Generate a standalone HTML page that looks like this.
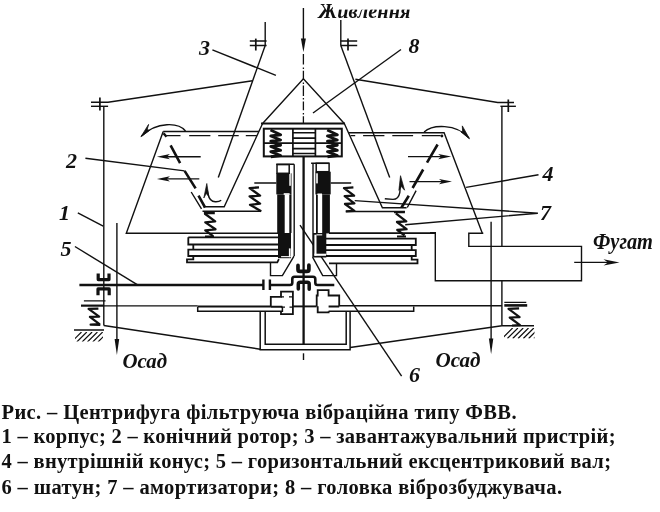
<!DOCTYPE html>
<html><head><meta charset="utf-8">
<style>
html,body{margin:0;padding:0;background:#fff;}
svg{display:block;will-change:transform;}
.t{font-family:"Liberation Serif",serif;font-weight:bold;font-size:20.5px;fill:#111;}
.it{font-family:"Liberation Serif",serif;font-weight:bold;font-style:italic;fill:#111;}
</style></head><body>
<svg width="660" height="512" viewBox="0 0 660 512">
<g fill="none" stroke="#111" stroke-width="1.4">
<path d="M303.4 8 V40"/>
<path d="M300.9 38.5 L303.4 52.3 L305.9 38.5 Z" fill="#111" stroke="none"/>
<path d="M303.4 54 V64.6 M303.4 67.5 V69 M303.4 70.7 V79.5 M303.4 82.5 V84 M303.4 85.6 V96 M303.4 98 V99.5 M303.4 101.4 V110.2 M303.4 113 V114.5 M303.4 116.3 V123" stroke-width="1.3"/>
<path d="M303.5 353.3 V360" stroke-width="1.4"/>
<path d="M265.2 22 V45.5"/>
<path d="M249.8 41 H266.6 M249.8 45.5 H266.6"/>
<path d="M255.8 38.6 V50.5" stroke-width="1.7"/>
<path d="M265.2 45.5 L218.3 177.4"/>
<path d="M340.8 20 V45.5"/>
<path d="M340.5 41 H357.2 M340.5 45.5 H357.2"/>
<path d="M348 38.6 V50.5" stroke-width="1.7"/>
<path d="M340.8 45.5 L389.7 177.5"/>
<path d="M91 102.3 H108 L252.6 80.7"/>
<path d="M91 106.3 H108.1"/>
<path d="M99.9 97.6 V110.5" stroke-width="1.7"/>
<path d="M103.8 106.3 V325.5"/>
<path d="M355.4 79.2 L497.7 102.5 H514"/>
<path d="M500.4 106.3 H515.9"/>
<path d="M508.3 99.5 V112" stroke-width="1.7"/>
<path d="M501.9 106.3 V246.4 M501.9 280.8 V325.7"/>
<path d="M262.6 123.5 L303.4 78.7 L344.3 123.5"/>
<path d="M261 123.5 H345" stroke-width="1.8"/>
<path d="M212.4 49.8 L275.9 75.4"/>
<path d="M401 49.5 L313 113"/>
<path d="M85.4 158.2 L184.6 170.9"/>
<path d="M77.8 212.8 L103.2 226.2"/>
<path d="M74.9 246.5 L137.2 284.7"/>
<path d="M466.1 187.4 L538.5 174.7"/>
<path d="M537.9 213.2 L354.7 200.6 M537.9 213.2 L405.2 224.8"/>
<path d="M300 225.2 L401.6 376.1"/>
<path d="M163.2 131.5 L126.3 233.3 H278"/>
<path d="M163.2 131.5 H258.9 M348.2 132.8 H444.1 L482.4 233.5"/>
<path d="M166.3 135.6 H180.5 M189.2 135.6 H210.4 M218.2 135.6 H238.7 M245.8 135.6 H256.9 M350.5 135.6 H355.2 M363.1 135.6 H384.4 M392.3 135.6 H413.1 M421.8 135.6 H440.7"/>
<path d="M163.5 133.2 L166.5 136.8" stroke-width="2.4"/>
<circle cx="441.9" cy="136" r="1.4" fill="#111" stroke="none"/>
<path d="M185.5 131 C179 122.5 157 121 141.5 136"/>
<path d="M140.9 136.8 L148.6 124.4 L147.2 129.5 L149.5 130.5 Z" fill="#111" stroke="#111" stroke-width="0.8" stroke-linejoin="round"/>
<path d="M424.1 132.1 C432 124.5 456 123 469 138"/>
<path d="M469.5 138.8 L462.3 125.9 L462.6 131.5 L461 132 Z" fill="#111" stroke="#111" stroke-width="0.8" stroke-linejoin="round"/>
<path d="M166.9 156.7 H200.7"/>
<path d="M156.9 156.7 L169.9 154.1 L166.9 156.7 L169.9 159.29999999999998 Z" fill="#111" stroke="none"/>
<path d="M166.9 178.9 H199.3"/>
<path d="M156.9 178.9 L169.9 176.3 L166.9 178.9 L169.9 181.5 Z" fill="#111" stroke="none"/>
<path d="M408 156.6 H441.2"/>
<path d="M451.2 156.6 L438.2 154.0 L441.2 156.6 L438.2 159.2 Z" fill="#111" stroke="none"/>
<path d="M409.5 181.6 H442"/>
<path d="M452 181.6 L439 179.0 L442 181.6 L439 184.2 Z" fill="#111" stroke="none"/>
<path d="M191.2 192 L201.5 208.9 M416.1 190.6 L407.3 207.5"/>
<path d="M207.2 190 L208 194 Q209.5 201.5 215.3 201.8 Q219 202 221.2 200.2"/>
<path d="M206.8 183.5 L203.8 198 L206.3 193.5 L208.8 196.5 Z" fill="#111" stroke="#111" stroke-width="0.7" stroke-linejoin="round"/>
<path d="M400.3 186 L399.8 192.6 Q398.5 199.4 393 199.4 L384.8 198.7"/>
<path d="M400.5 175.7 L404.6 190.2 L401.3 186.5 L398.9 190.3 Z" fill="#111" stroke="#111" stroke-width="0.7" stroke-linejoin="round"/>
<path d="M262.6 123.5 L224.2 206.7 H203.5"/>
<path d="M344.3 123.5 L382.4 207.7 H406.6"/>
<path d="M202.5 211.2 H261.2 M345.8 211.5 H404.9"/>
<rect x="263.8" y="128.7" width="78" height="27.7" stroke-width="2"/>
<path d="M292.9 128.7 V156.4 M315.4 128.7 V156.4 M263.8 143.1 H341.8" stroke-width="1.7"/>
<path d="M292.9 132.8 H315.4 M292.9 138.1 H315.4 M292.9 148.6 H315.4 M292.9 153.5 H315.4" stroke-width="1.6"/>
<path d="M254.3 183 H276.3 M330.7 183 H351.2"/>
<path d="M276.3 164.3 H294.2 M294.2 164.3 V256.1 M311.1 163.3 H329.1 M313 163.3 V233"/>
<path d="M188.3 237.3 H278.3 M188.3 237.3 V244.5 H193.3 V249.7 H188.3 V256 H193.3 V259.3 H187 V262.3 H277.3 L278.9 259.2 M193.3 244.5 H278.3 M188.3 249.7 H278.3 M193.3 256 H278.3" stroke-width="1.8"/>
<path d="M329 233.1 H435.5 M326 238.7 H415.8 V245 H411.7 V250.2 H415.8 V256 H411.7 V259.7 H417.5 V263.3 H329 M326 245 H411.7 M326 250.2 H415.8 M326 256 H411.7" stroke-width="1.8"/>
<path d="M270.5 262.3 V275.6 H282.4 L294 256.1 M336.5 263.3 V275.6 H322.7 L312.6 257.2"/>
<path d="M430 232.6 H435.3 V280.8 H581.5 V246.4 H468.8 V233.3 H483.3"/>
<path d="M491.1 221.7 V342"/>
<path d="M574.2 262.4 H609"/>
<path d="M619.5 262.4 L603.5 259.2 L608 262.4 L603.5 265.6 Z" fill="#111" stroke="none"/>
<path d="M116.9 223 V342"/>
<path d="M114.6 339 L116.9 355 L119.2 339 Z" fill="#111" stroke="none"/>
<path d="M488.9 338.5 L491.1 354.2 L493.3 338.5 Z" fill="#111" stroke="none"/>
<path d="M81 305.9 H197.7 M339.2 305.8 H501.9" stroke-width="1.4"/>
<path d="M197.7 306.5 H270.8" stroke-width="2.1"/>
<path d="M292.9 306.4 H316.7" stroke-width="1.9"/>
<path d="M197.7 306.7 V311.3 H282.4 V306.7 M328.6 311.3 H413.7 V306.5" stroke-width="1.5"/>
<path d="M270.8 306.7 H282.4 M328.6 306.4 H339.2" stroke-width="2"/>
<path d="M270.8 306.7 V296.9 H281 V291.6 H292.9 V314.1 H281 V311.3" stroke-width="1.8"/>
<path d="M281 296.9 H284 M289 296.9 H292.9 M281 307.1 H285 M289.5 307.1 H292.9" stroke-width="1.2"/>
<path d="M339.2 306.3 V295.5 H328.6 V290.2 H317.7 V295.5 H316.7 V306.3 M317.7 306.3 V312.4 H328.6 V311.3" stroke-width="1.8"/>
<path d="M260.2 311.3 V349.7 H350.1 V311.3 M265.2 311.3 V344.2 H346.2 V311.3" stroke-width="1.5"/>
<path d="M103.8 325.5 L260.2 349.2 M350.1 347.5 L501.9 325.7"/>
<path d="M74 330 H104 M501.9 325.7 H534"/>
<path d="M83.9 300.8 H105.5 M504.3 302.3 H526.3" stroke-width="1.3"/>
</g>
<g fill="none" stroke="#111" stroke-width="2.6" stroke-linejoin="round">
<path d="M170.6 145.4 L180.1 163.1 M184.6 170.9 L195.6 188.4 M198.5 195.7 L205.1 207.5"/>
<path d="M437.6 144.5 L427 162.7 M423.2 169.5 L412.6 188 M408.8 195.7 L401.5 207.5"/>
<path d="M204.60 213.50 L215.20 221.40 L205.30 222.40 L215.50 229.30 L205.30 230.30 L213.10 236.10" stroke-width="2.3"/>
<path d="M395.80 213.30 L406.30 221.30 L397.00 222.00 L406.60 229.20 L397.30 230.00 L404.50 235.40" stroke-width="2.3"/>
<path d="M259.00 187.40 L249.60 188.10 L260.10 195.70 L249.60 196.40 L260.10 203.70 L250.00 204.80 L261.20 211.30" stroke-width="2.3"/>
<path d="M353.40 187.40 L344.00 188.10 L354.10 195.70 L344.70 196.10 L354.40 203.30 L345.00 204.00 L354.40 210.90 L345.80 211.30" stroke-width="2.3"/>
<path d="M270.50 130.00 L280.60 134.80 L270.80 136.00 L280.60 140.00 L270.80 141.20 L280.60 145.20 L270.80 146.40 L280.60 150.40 L270.80 151.60 L280.60 155.60 L270.80 156.80" stroke-width="2.9" stroke-linejoin="round"/>
<path d="M327.20 130.00 L337.30 134.80 L327.50 136.00 L337.30 140.00 L327.50 141.20 L337.30 145.20 L327.50 146.40 L337.30 150.40 L327.50 151.60 L337.30 155.60 L327.50 156.80" stroke-width="2.9" stroke-linejoin="round"/>
<path d="M98.40 308.60 L88.60 308.90 L99.20 316.60 L89.90 316.90 L99.50 324.20 L90.60 324.60 L100.30 324.80" stroke-width="2.2"/>
<path d="M519.10 308.40 L508.50 308.80 L519.60 317.10 L509.70 317.50 L520.00 325.20 L512.00 325.50" stroke-width="2.2"/>
<path d="M203.9 213.2 H214.8 M394 212.2 H404.9" stroke-width="2.3"/>
<path d="M504.3 305.4 H527.2" stroke-width="2.6"/>
<path d="M81 305.5 H103.8" stroke-width="1.9"/>
<path d="M205 236.5 H214 M397 236.5 H406" stroke-width="2"/>
<path d="M303.6 156.4 V344.2" stroke-width="2.3"/>
<path d="M79.4 285 H263.4 M269.9 285 H290 Q292.3 285 292.3 282.8 V279 Q292.3 276.8 294.5 276.8 H313 Q315.3 276.8 315.3 279 V282.8 Q315.3 285 317.5 285 H334.3" stroke-width="2.6"/>
<path d="M263.4 279.5 V290 M269.9 279.5 V290" stroke-width="2.4"/>
<path d="M298 265.4 V269.4 Q298 271.4 300 271.4 H306.9 Q308.9 271.4 308.9 269.4 V265.2" stroke-width="3.7" stroke-linecap="round"/>
<path d="M298.3 289 V284.3 Q298.3 282.3 300.3 282.3 H307.2 Q309.2 282.3 309.2 284.3 V289.3" stroke-width="3.5" stroke-linecap="round"/>
<path d="M98.2 273.5 V279.6 H109 V273.5 M98 295.2 V288.9 H109.2 V295.2" stroke-width="3.2"/>
</g>
<g fill="#111" stroke="none">
<rect x="276.3" y="173.3" width="15.2" height="21.1"/>
<rect x="277.2" y="194.4" width="7.5" height="38.9"/>
<rect x="289.3" y="194.4" width="2.2" height="38.6"/>
<rect x="278" y="233" width="13" height="25.2"/>
<rect x="315.4" y="171.7" width="15.3" height="22.7"/>
<rect x="322.2" y="194.4" width="7.7" height="39"/>
<rect x="316" y="194.4" width="1.8" height="39"/>
<rect x="312.3" y="233" width="14" height="24.5"/>
</g>
<g fill="#fff" stroke="none">
<rect x="289.3" y="171.7" width="1.5" height="14.1"/>
<rect x="283.7" y="193.2" width="5.9" height="1.6"/>
<rect x="316.2" y="173.3" width="1.6" height="10.1"/>
<rect x="317.4" y="193.5" width="4.6" height="1.5"/>
<rect x="288.9" y="248.4" width="1.7" height="8.8"/>
<rect x="281.1" y="256.1" width="9.5" height="1.1"/>
<rect x="314.4" y="234.7" width="2.1" height="21"/>
<rect x="314.4" y="253.7" width="11.6" height="2.1"/>
<rect x="316.5" y="234.3" width="5.7" height="1.1"/>
</g>
<g fill="none" stroke="#111" stroke-width="1.5">
<rect x="277" y="164.6" width="12.2" height="8.7" fill="#fff"/>
<rect x="316.2" y="163.3" width="12.9" height="8.4" fill="#fff"/>
</g>
<defs><clipPath id="hc1"><rect x="75" y="332" width="28" height="9.5"/></clipPath><clipPath id="hc2"><rect x="504" y="328" width="30.5" height="10.5"/></clipPath></defs>
<path clip-path="url(#hc1)" d="M71.5 342 L81.5 332 M76.8 342 L86.8 332 M82.1 342 L92.1 332 M87.4 342 L97.4 332 M92.7 342 L102.7 332 M98.0 342 L108.0 332 M103.3 342 L113.3 332 M108.6 342 L118.6 332" stroke="#111" stroke-width="1.2" fill="none"/>
<path clip-path="url(#hc2)" d="M502.1 338.5 L512.6 328 M507.4 338.5 L517.9 328 M512.7 338.5 L523.2 328 M518.0 338.5 L528.5 328 M523.3 338.5 L533.8 328 M528.6 338.5 L539.1 328 M533.9 338.5 L544.4 328 M539.2 338.5 L549.7 328" stroke="#111" stroke-width="1.2" fill="none"/>
<text class="it" x="318.5" y="18.2" font-size="21" textLength="92" lengthAdjust="spacingAndGlyphs">Живлення</text>
<text class="it" x="199" y="55" font-size="22">3</text>
<text class="it" x="408.5" y="53" font-size="22">8</text>
<text class="it" x="66" y="167.5" font-size="22">2</text>
<text class="it" x="59" y="220" font-size="22">1</text>
<text class="it" x="60.5" y="256" font-size="22">5</text>
<text class="it" x="542.5" y="181" font-size="22">4</text>
<text class="it" x="540" y="219.5" font-size="22">7</text>
<text class="it" x="409" y="382" font-size="22">6</text>
<text class="it" x="593" y="249.3" font-size="23" textLength="60" lengthAdjust="spacingAndGlyphs">Фугат</text>
<text class="it" x="122.5" y="367.8" font-size="22" textLength="44.5" lengthAdjust="spacingAndGlyphs">Осад</text>
<text class="it" x="435.5" y="367.3" font-size="22" textLength="45" lengthAdjust="spacingAndGlyphs">Осад</text>
<rect x="333" y="0" width="80" height="9.6" fill="#fff"/>
<text class="t" x="1.5" y="418.9" textLength="515" lengthAdjust="spacing">Рис. – Центрифуга фільтруюча вібраційна типу ФВВ.</text>
<text class="t" x="1.5" y="443" textLength="614" lengthAdjust="spacing">1 – корпус; 2 – конічний ротор; 3 – завантажувальний пристрій;</text>
<text class="t" x="1.5" y="467.5" textLength="609.5" lengthAdjust="spacing">4 – внутрішній конус; 5 – горизонтальний ексцентриковий вал;</text>
<text class="t" x="1.5" y="493.8" textLength="560.5" lengthAdjust="spacing">6 – шатун; 7 – амортизатори; 8 – головка віброзбуджувача.</text>
</svg>
</body></html>
